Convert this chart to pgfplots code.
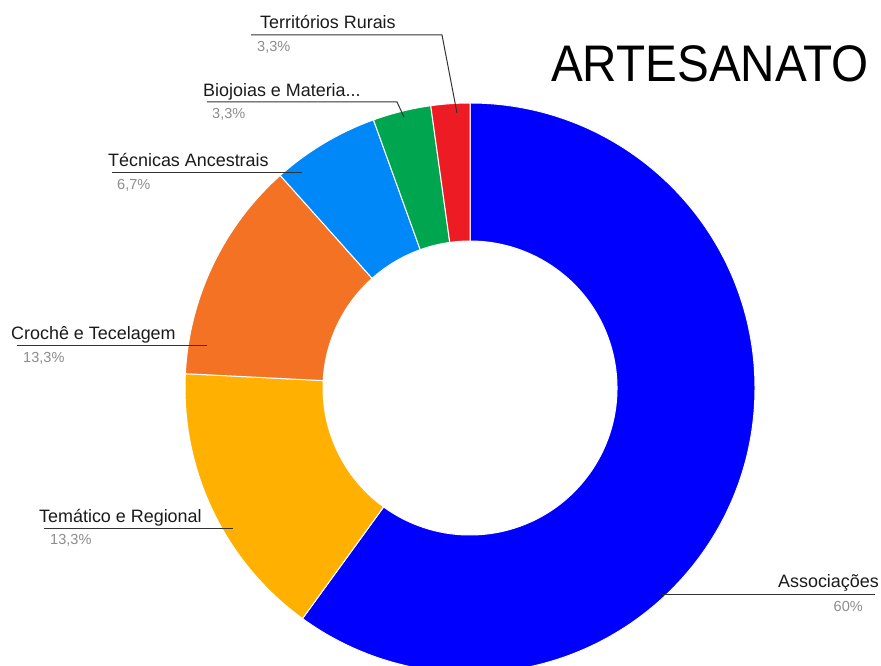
\documentclass[border=0pt]{standalone}
\usepackage{pgfplots}
\pgfplotsset{compat=1.18}
\usepackage{pgfplotstable}
\usepackage{fontspec}
\setmainfont{Liberation Sans}
\definecolor{slice0}{HTML}{0000FF}
\definecolor{slice1}{HTML}{FFB000}
\definecolor{slice2}{HTML}{F37224}
\definecolor{slice3}{HTML}{0088F8}
\definecolor{slice4}{HTML}{00A64F}
\definecolor{slice5}{HTML}{ED1C24}
\definecolor{cText}{HTML}{1A1A1A}
\definecolor{cPct}{HTML}{8C8C8C}
\definecolor{cLine}{HTML}{333333}
\begin{document}
\begin{tikzpicture}
% slices clockwise from 12 o'clock: Associacoes, Tematico, Croche, Tecnicas, Biojoias, Territorios
\pgfplotstableread{
value
60
15.8
12.6
6.1
3.3
2.2
}\slices
\gdef\cum{0}
\pgfplotsforeachungrouped \i in {0,...,5}{%
  \pgfplotstablegetelem{\i}{value}\of\slices
  \pgfmathsetmacro\va{90-3.6*\cum}%
  \pgfmathsetmacro\cumnew{\cum+\pgfplotsretval}%
  \pgfmathsetmacro\vb{90-3.6*\cumnew}%
  \expandafter\xdef\csname sA\i\endcsname{\va}%
  \expandafter\xdef\csname sB\i\endcsname{\vb}%
  \xdef\cum{\cumnew}%
}
\begin{axis}[scale only axis, width=881bp, height=666bp,
  xmin=0, xmax=881, ymin=0, ymax=666, hide axis, clip mode=individual]
\path (rel axis cs:0,0) (rel axis cs:1,1);
\begin{scope}
\clip (rel axis cs:0,0) rectangle (rel axis cs:1,1);
\pgfplotsinvokeforeach{0,...,5}{
 \fill[slice#1, draw=white, line width=1bp]
   ([shift={(\csname sA#1\endcsname:285bp)}]axis cs:470,278)
   arc[start angle=\csname sA#1\endcsname, end angle=\csname sB#1\endcsname, radius=285bp]
   -- ([shift={(\csname sB#1\endcsname:147bp)}]axis cs:470,278)
   arc[start angle=\csname sB#1\endcsname, end angle=\csname sA#1\endcsname, radius=147bp]
   -- cycle;
}
\end{scope}
% title
\node[anchor=base west, inner sep=0, text=black, yscale=1.08,
  font=\fontsize{47.8}{50}\selectfont] at (axis cs:551,584) {ARTESANATO};
% leader lines
\draw[cLine, line width=1bp] (axis cs:251,631) -- (axis cs:442,631) -- (axis cs:457,553);
\draw[cLine, line width=1bp] (axis cs:207,564) -- (axis cs:397,564) -- (axis cs:404,549);
\draw[cLine, line width=1bp] (axis cs:112,493) -- (axis cs:302,493);
\draw[cLine, line width=1bp] (axis cs:17,320) -- (axis cs:207,320);
\draw[cLine, line width=1bp] (axis cs:44,137) -- (axis cs:233,137);
\draw[cLine, line width=1bp] (axis cs:662,71) -- (axis cs:875,71);
% labels
\tikzset{lab/.style={inner sep=0, text=cText, font=\fontsize{18}{21}\selectfont},
         pct/.style={inner sep=0, text=cPct, font=\fontsize{14.6}{17}\selectfont}}
\node[lab, anchor=base west] at (axis cs:260,637) {Territórios Rurais};
\node[pct, anchor=base west] at (axis cs:257,614) {3,3\%};
\node[lab, anchor=base west] at (axis cs:203,569) {Biojoias e Materia...};
\node[pct, anchor=base west] at (axis cs:212,547) {3,3\%};
\node[lab, anchor=base west] at (axis cs:108,499) {Técnicas Ancestrais};
\node[pct, anchor=base west] at (axis cs:117,476) {6,7\%};
\node[lab, anchor=base west] at (axis cs:11,326) {Crochê e Tecelagem};
\node[pct, anchor=base west] at (axis cs:23,303) {13,3\%};
\node[lab, anchor=base west] at (axis cs:39,143) {Temático e Regional};
\node[pct, anchor=base west] at (axis cs:50,121) {13,3\%};
\node[lab, anchor=base east] at (axis cs:879,78) {Associações};
\node[pct, anchor=base east] at (axis cs:863,54) {60\%};
\end{axis}
\end{tikzpicture}
\end{document}
